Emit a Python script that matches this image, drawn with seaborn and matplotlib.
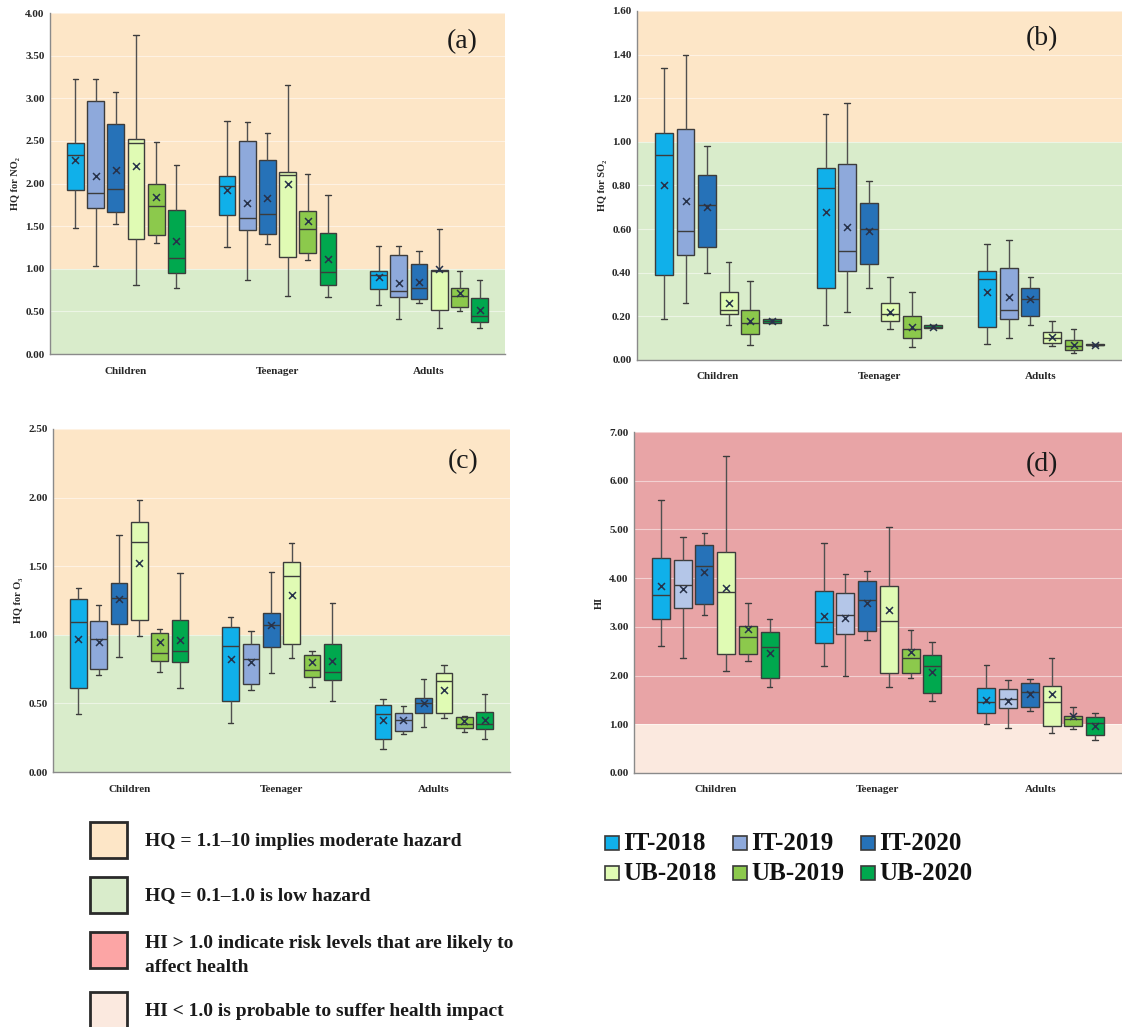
import numpy as np
import pandas as pd
import matplotlib
matplotlib.use("Agg")
import matplotlib.pyplot as plt
from matplotlib.patches import Rectangle
import seaborn as sns

sns.set_theme(style="white")
plt.rcParams["font.family"] = ["Liberation Serif", "DejaVu Serif"]
plt.rcParams["font.weight"] = "bold"

GROUPS = ["Children", "Teenager", "Adults"]
SERIES = ["IT-2018", "IT-2019", "IT-2020", "UB-2018", "UB-2019", "UB-2020"]
COLORS = ["#10b0ea", "#8ea9db", "#2672b8", "#e0fbb4", "#8cc94c", "#00a84e"]
COLORS_D = ["#10b0ea", "#b4c6e8", "#2672b8", "#e0fbb4", "#8cc94c", "#00a84e"]

# ---- (a) HQ for NO2 : rows = groups, cols = series ----
NO2_MIN = [[1.48, 1.03, 1.52, 0.81, 1.30, 0.78],
           [1.25, 0.87, 1.29, 0.68, 1.10, 0.67],
           [0.58, 0.41, 0.60, 0.31, 0.50, 0.30]]
NO2_Q1 = [[1.92, 1.71, 1.67, 1.35, 1.40, 0.95],
          [1.63, 1.46, 1.41, 1.14, 1.18, 0.81],
          [0.76, 0.67, 0.65, 0.52, 0.55, 0.37]]
NO2_MED = [[2.34, 1.89, 1.94, 2.47, 1.74, 1.13],
           [1.97, 1.59, 1.64, 2.10, 1.47, 0.96],
           [0.93, 0.74, 0.77, 0.97, 0.68, 0.45]]
NO2_Q3 = [[2.48, 2.97, 2.70, 2.52, 2.00, 1.69],
          [2.09, 2.50, 2.27, 2.13, 1.68, 1.42],
          [0.97, 1.16, 1.06, 0.99, 0.78, 0.66]]
NO2_MAX = [[3.23, 3.22, 3.07, 3.74, 2.49, 2.22],
           [2.73, 2.72, 2.59, 3.15, 2.11, 1.87],
           [1.27, 1.27, 1.21, 1.47, 0.97, 0.87]]
NO2_MEAN = [[2.28, 2.09, 2.16, 2.20, 1.84, 1.32],
            [1.92, 1.77, 1.83, 2.00, 1.56, 1.12],
            [0.90, 0.83, 0.85, 1.00, 0.72, 0.52]]

# ---- (b) HQ for SO2 ----
SO2_MIN = [[0.19, 0.26, 0.40, 0.16, 0.07, 0.17],
           [0.16, 0.22, 0.33, 0.14, 0.06, 0.145],
           [0.075, 0.10, 0.16, 0.065, 0.03, 0.065]]
SO2_Q1 = [[0.39, 0.48, 0.52, 0.21, 0.12, 0.17],
          [0.33, 0.41, 0.44, 0.18, 0.10, 0.145],
          [0.15, 0.19, 0.20, 0.08, 0.045, 0.067]]
SO2_MED = [[0.94, 0.59, 0.71, 0.23, 0.17, 0.18],
           [0.79, 0.50, 0.60, 0.21, 0.14, 0.15],
           [0.37, 0.23, 0.28, 0.10, 0.065, 0.07]]
SO2_Q3 = [[1.04, 1.06, 0.85, 0.31, 0.23, 0.19],
          [0.88, 0.90, 0.72, 0.26, 0.20, 0.16],
          [0.41, 0.42, 0.33, 0.13, 0.09, 0.073]]
SO2_MAX = [[1.34, 1.40, 0.98, 0.45, 0.36, 0.19],
           [1.13, 1.18, 0.82, 0.38, 0.31, 0.16],
           [0.53, 0.55, 0.38, 0.18, 0.14, 0.075]]
SO2_MEAN = [[0.80, 0.73, 0.70, 0.26, 0.18, 0.18],
            [0.68, 0.61, 0.59, 0.22, 0.15, 0.15],
            [0.31, 0.29, 0.28, 0.105, 0.07, 0.07]]

# ---- (c) HQ for O3 ----
O3_MIN = [[0.42, 0.71, 0.84, 0.99, 0.73, 0.61],
          [0.36, 0.60, 0.72, 0.83, 0.62, 0.52],
          [0.17, 0.28, 0.33, 0.39, 0.29, 0.24]]
O3_Q1 = [[0.61, 0.75, 1.08, 1.11, 0.81, 0.80],
         [0.52, 0.64, 0.91, 0.93, 0.69, 0.67],
         [0.24, 0.30, 0.43, 0.43, 0.32, 0.31]]
O3_MED = [[1.09, 0.97, 1.27, 1.68, 0.87, 0.88],
          [0.92, 0.82, 1.07, 1.43, 0.74, 0.73],
          [0.42, 0.38, 0.50, 0.66, 0.35, 0.35]]
O3_Q3 = [[1.26, 1.10, 1.38, 1.82, 1.01, 1.11],
         [1.06, 0.93, 1.16, 1.53, 0.85, 0.93],
         [0.49, 0.43, 0.54, 0.72, 0.40, 0.44]]
O3_MAX = [[1.34, 1.22, 1.73, 1.98, 1.04, 1.45],
          [1.13, 1.03, 1.46, 1.67, 0.88, 1.23],
          [0.53, 0.48, 0.68, 0.78, 0.41, 0.57]]
O3_MEAN = [[0.97, 0.95, 1.26, 1.52, 0.95, 0.96],
           [0.82, 0.80, 1.07, 1.29, 0.80, 0.81],
           [0.38, 0.38, 0.50, 0.60, 0.37, 0.38]]

# ---- (d) HI ----
HI_MIN = [[2.61, 2.36, 3.25, 2.10, 2.30, 1.77],
          [2.20, 1.99, 2.74, 1.76, 1.95, 1.48],
          [1.01, 0.93, 1.27, 0.82, 0.90, 0.68]]
HI_Q1 = [[3.16, 3.38, 3.46, 2.44, 2.44, 1.96],
         [2.66, 2.85, 2.92, 2.06, 2.06, 1.64],
         [1.24, 1.33, 1.36, 0.97, 0.97, 0.78]]
HI_MED = [[3.66, 3.85, 4.24, 3.71, 2.80, 2.59],
          [3.09, 3.25, 3.56, 3.13, 2.37, 2.20],
          [1.45, 1.51, 1.66, 1.45, 1.10, 1.02]]
HI_Q3 = [[4.42, 4.38, 4.69, 4.54, 3.01, 2.89],
         [3.73, 3.69, 3.95, 3.84, 2.55, 2.43],
         [1.74, 1.72, 1.84, 1.79, 1.18, 1.14]]
HI_MAX = [[5.60, 4.84, 4.92, 6.50, 3.48, 3.17],
          [4.73, 4.09, 4.15, 5.04, 2.93, 2.68],
          [2.21, 1.91, 1.93, 2.37, 1.36, 1.24]]
HI_MEAN = [[3.83, 3.77, 4.12, 3.80, 2.95, 2.46],
           [3.23, 3.18, 3.48, 3.34, 2.49, 2.08],
           [1.50, 1.48, 1.62, 1.62, 1.17, 0.97]]

PEACH = "#fde6c7"
GREEN = "#d9eccb"
RED = "#e8a4a6"
PALE = "#fbe9df"
EDGE = "#3c3c3c"
XCOL = "#27324a"


def box_frame(mins, q1s, meds, q3s, maxs):
    rows = []
    for gi, g in enumerate(GROUPS):
        for si, s in enumerate(SERIES):
            for v in (mins[gi][si], q1s[gi][si], meds[gi][si], q3s[gi][si], maxs[gi][si]):
                rows.append({"group": g, "series": s, "value": v})
    return pd.DataFrame(rows)


def mean_frame(means):
    rows = []
    for gi, g in enumerate(GROUPS):
        for si, s in enumerate(SERIES):
            rows.append({"group": g, "series": s, "value": means[gi][si]})
    return pd.DataFrame(rows)


W, H = 1122, 1027
fig = plt.figure(figsize=(W / 100, H / 100), dpi=100)


def px_axes(l, t, r, b):
    return fig.add_axes([l / W, 1 - b / H, (r - l) / W, (b - t) / H])


panels = [
    dict(rect=(50, 13, 505, 354), stats=(NO2_MIN, NO2_Q1, NO2_MED, NO2_Q3, NO2_MAX), mean=NO2_MEAN,
         ymax=4.0, step=0.5, ylabel="HQ for NO₂", tag="(a)", tagxy=(0.907, 0.915),
         bands=(PEACH, GREEN), pal=COLORS),
    dict(rect=(637, 11, 1122, 360), stats=(SO2_MIN, SO2_Q1, SO2_MED, SO2_Q3, SO2_MAX), mean=SO2_MEAN,
         ymax=1.6, step=0.2, ylabel="HQ for SO₂", tag="(b)", tagxy=(0.834, 0.92),
         bands=(PEACH, GREEN), pal=COLORS),
    dict(rect=(53, 429, 510, 772), stats=(O3_MIN, O3_Q1, O3_MED, O3_Q3, O3_MAX), mean=O3_MEAN,
         ymax=2.5, step=0.5, ylabel="HQ for O₃", tag="(c)", tagxy=(0.897, 0.904),
         bands=(PEACH, GREEN), pal=COLORS),
    dict(rect=(634, 432, 1122, 773), stats=(HI_MIN, HI_Q1, HI_MED, HI_Q3, HI_MAX), mean=HI_MEAN,
         ymax=7.0, step=1.0, ylabel="HI", tag="(d)", tagxy=(0.835, 0.903),
         bands=(RED, PALE), pal=COLORS_D),
]

for p in panels:
    ax = px_axes(*p["rect"])
    ax.axhspan(1.0, p["ymax"], color=p["bands"][0], zorder=0, lw=0)
    ax.axhspan(0.0, 1.0, color=p["bands"][1], zorder=0, lw=0)
    for yv in np.arange(p["step"], p["ymax"] + 1e-9, p["step"]):
        ax.axhline(yv, color="white", alpha=0.5, lw=0.8, zorder=0.5)
    bdf = box_frame(*p["stats"])
    sns.boxplot(data=bdf, x="group", y="value", hue="series", order=GROUPS, hue_order=SERIES,
                palette=p["pal"], saturation=1, width=0.8, gap=0.17, whis=(0, 100),
                linecolor=EDGE, linewidth=1.0, legend=False, ax=ax, zorder=2,
                capwidths=0.035, whiskerprops={"color": "#505050"})
    mdf = mean_frame(p["mean"])
    sns.stripplot(data=mdf, x="group", y="value", hue="series", order=GROUPS, hue_order=SERIES,
                  palette=[XCOL] * 6, dodge=True, jitter=False, marker="x", size=5,
                  linewidth=1.1, legend=False, ax=ax, zorder=3)
    ax.set_xlim(-0.5, 2.5)
    ax.set_ylim(0, p["ymax"])
    ticks = np.arange(0, p["ymax"] + 1e-9, p["step"])
    ax.set_yticks(ticks)
    ax.set_yticklabels([f"{t:.2f}" for t in ticks], fontsize=8, fontweight="bold")
    ax.set_xticks(range(3))
    ax.set_xticklabels(GROUPS, fontsize=8, fontweight="bold")
    ax.tick_params(axis="x", length=0, pad=9)
    ax.tick_params(axis="y", length=2, pad=2, color="#808080")
    ax.set_xlabel("")
    ax.set_ylabel(p["ylabel"], fontsize=7.5, fontweight="bold", labelpad=4)
    for s in ("top", "right"):
        ax.spines[s].set_visible(False)
    for s in ("left", "bottom"):
        ax.spines[s].set_color("#8a8a8a")
        ax.spines[s].set_linewidth(1.0)
    ax.text(p["tagxy"][0], p["tagxy"][1], p["tag"], transform=ax.transAxes, ha="center", va="center",
            fontsize=20, fontweight="normal", color="#1a1a1a", zorder=5)

# ---- hazard legend (bottom left) ----
haz = [(PEACH, ["HQ = 1.1–10 implies moderate hazard"], 822),
       (GREEN, ["HQ = 0.1–1.0 is low hazard"], 877),
       ("#fca5a5", ["HI > 1.0 indicate risk levels that are likely to", "affect health"], 932),
       (PALE, ["HI < 1.0 is probable to suffer health impact"], 992)]
for col, lines, top in haz:
    fig.add_artist(Rectangle((90 / W, 1 - (top + 36) / H), 37 / W, 36 / H, transform=fig.transFigure,
                             facecolor=col, edgecolor="#2a2a2a", lw=2))
    if len(lines) == 1:
        fig.text(145 / W, 1 - (top + 19) / H, lines[0], fontsize=14, fontweight="bold",
                 va="center", ha="left", color="#1a1a1a")
    else:
        fig.text(145 / W, 1 - (top + 11) / H, lines[0], fontsize=14, fontweight="bold",
                 va="center", ha="left", color="#1a1a1a")
        fig.text(145 / W, 1 - (top + 35) / H, lines[1], fontsize=14, fontweight="bold",
                 va="center", ha="left", color="#1a1a1a")

# ---- series legend (bottom right) ----
col_x = [605, 733, 861]
row_y = [843, 873]
for i, (s, c) in enumerate(zip(SERIES, COLORS)):
    r, k = divmod(i, 3)
    x0, yc = col_x[k], row_y[r]
    fig.add_artist(Rectangle((x0 / W, 1 - (yc + 7) / H), 14 / W, 14 / H, transform=fig.transFigure,
                             facecolor=c, edgecolor="#3a3a3a", lw=1.2))
    fig.text((x0 + 18) / W, 1 - yc / H, s, fontsize=18, fontweight="bold", va="center", ha="left",
             color="#111111")

fig.savefig("out.png", dpi=100)
